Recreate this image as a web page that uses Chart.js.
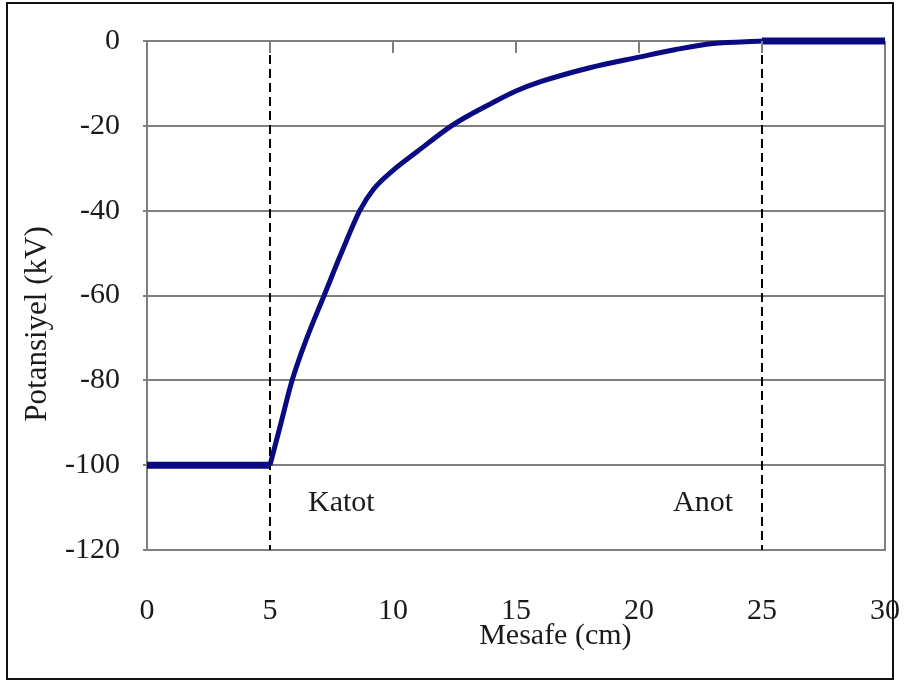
<!DOCTYPE html>
<html>
<head>
<meta charset="utf-8">
<script src="https://cdn.jsdelivr.net/npm/chart.js@4"></script>
<style>
  html, body { margin: 0; padding: 0; background: #fff; }
  #kutu { position: relative; width: 905px; height: 686px; }
  #cerceve {
    position: absolute; left: 6px; top: 2px; width: 888px; height: 678px;
    box-sizing: border-box; border: 2px solid #111; pointer-events: none;
  }
  canvas { position: absolute; left: 0; top: 0; }
</style>
</head>
<body>
<div id="kutu">
  <canvas id="grafik" width="905" height="686"></canvas>
  <div id="cerceve"></div>
</div>
<script>
// Katot öncesi düz bölge
const solMesafe = [0, 5];
const solPotansiyel = [-100, -100];

// Katot ile anot arası eğri
const mesafe = [5, 5.45, 5.9, 6.5, 7.2, 7.9, 8.65, 9.2, 10, 11, 12.3, 13, 14, 15, 16, 18, 20, 21.5, 23, 25];
const potansiyel = [-100, -90, -80, -70, -60, -50, -40, -35, -30.5, -26, -20.3, -17.8, -14.7, -11.8, -9.6, -6.3, -3.8, -2, -0.6, 0];

// Anot sonrası düz bölge
const sagMesafe = [25, 30];
const sagPotansiyel = [0, 0];

// Elektrot konumları ve etiketleri
const elektrotlar = [5, 25];
const etiketler = ["Katot", "Anot"];
const etiketX = [7.9, 22.6];
const etiketY = -109;

const xTicks = [0, 5, 10, 15, 20, 25, 30];
const yTicks = [0, -20, -40, -60, -80, -100, -120];

const FONT = "'Liberation Serif', 'Times New Roman', serif";
const LACIVERT = "#0a0a82";
const GRI = "#7f7f7f";
const YAZI = "#1a1a1a";
const SEFFAF = "rgba(0,0,0,0)";

const noktalar = (xs, ys) => xs.map((x, i) => ({ x, y: ys[i] }));

const datasets = [
  {
    data: noktalar(solMesafe, solPotansiyel),
    borderColor: LACIVERT, borderWidth: 7, tension: 0, order: 0
  },
  {
    data: noktalar(mesafe, potansiyel),
    borderColor: LACIVERT, borderWidth: 5, cubicInterpolationMode: "monotone", order: 0
  },
  {
    data: noktalar(sagMesafe, sagPotansiyel),
    borderColor: LACIVERT, borderWidth: 7, tension: 0, order: 0
  }
];

elektrotlar.forEach(e => {
  datasets.push({
    data: [{ x: e, y: 0 }, { x: e, y: -120 }],
    borderColor: "#000", borderWidth: 2, borderDash: [9, 5], order: 1
  });
});

// x ekseninin 0 çizgisindeki küçük çentikler, etiketler ve eksen başlıkları
const eklemeler = {
  id: "eklemeler",
  afterDatasetsDraw(chart) {
    const { ctx, scales: { x, y }, chartArea } = chart;
    ctx.save();

    ctx.strokeStyle = GRI;
    ctx.lineWidth = 2;
    const y0 = y.getPixelForValue(0);
    xTicks.forEach(t => {
      if (t <= 0 || t >= 30) return;
      const px = Math.round(x.getPixelForValue(t));
      ctx.beginPath();
      ctx.moveTo(px, y0);
      ctx.lineTo(px, y0 + 12);
      ctx.stroke();
    });

    ctx.fillStyle = YAZI;
    ctx.font = "30px " + FONT;
    ctx.textAlign = "center";
    ctx.textBaseline = "middle";
    etiketler.forEach((txt, i) => {
      ctx.fillText(txt, x.getPixelForValue(etiketX[i]), y.getPixelForValue(etiketY));
    });

    // x başlığı, grafiğin ortasından biraz sağda
    ctx.fillText("Mesafe (cm)", x.getPixelForValue(16.6), chartArea.bottom + 86);

    ctx.translate(38, chartArea.bottom - 226);
    ctx.rotate(-Math.PI / 2);
    ctx.font = "31px " + FONT;
    ctx.fillText("Potansiyel (kV)", 0, 0);
    ctx.restore();
  }
};

new Chart(document.getElementById("grafik"), {
  type: "line",
  data: { datasets },
  plugins: [eklemeler],
  options: {
    responsive: false,
    animation: false,
    layout: { padding: { top: 41, right: 20, bottom: 0, left: 0 } },
    elements: { point: { radius: 0 }, line: { borderCapStyle: "butt" } },
    datasets: { line: { clip: false, fill: false } },
    plugins: { legend: { display: false }, tooltip: { enabled: false } },
    scales: {
      x: {
        type: "linear",
        min: 0, max: 30,
        afterFit: s => { s.height = 136; },
        afterBuildTicks: s => { s.ticks = xTicks.map(v => ({ value: v })); },
        grid: {
          drawTicks: true,
          tickLength: 40,
          tickColor: SEFFAF,
          lineWidth: 2,
          color: c => (c.tick && c.tick.value === 30 ? GRI : SEFFAF)
        },
        border: { color: GRI, width: 2 },
        ticks: {
          padding: 3,
          maxRotation: 0,
          color: YAZI,
          font: { family: FONT, size: 30 }
        }
      },
      y: {
        min: -120, max: 0,
        afterFit: s => { s.width = 147; },
        afterBuildTicks: s => { s.ticks = yTicks.map(v => ({ value: v })); },
        grid: { color: GRI, lineWidth: 2, tickLength: 4 },
        border: { color: GRI, width: 2 },
        ticks: {
          padding: 23,
          color: YAZI,
          font: { family: FONT, size: 30 }
        }
      }
    }
  }
});
</script>
</body>
</html>
